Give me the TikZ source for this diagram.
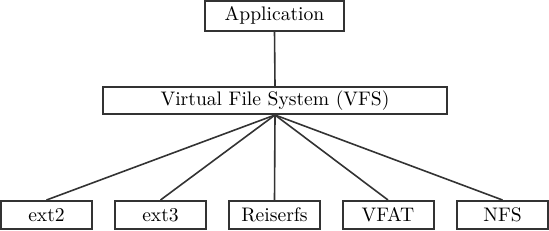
\documentclass[tikz,border=0pt]{standalone}
\begin{document}
\begin{tikzpicture}[x=0.5pt,y=-0.5pt]
    % styles
    \tikzstyle{fsbox}=[draw=black!80, line width=1pt, inner sep=0pt, minimum height=14pt, font=\fontsize{9.8}{12}\selectfont]
    \tikzstyle{link}=[black!80, line width=0.8pt]

    \useasboundingbox (0,0) rectangle (549,230);

    % top
    \node[fsbox, minimum width=69.5pt, minimum height=15pt] (app) at (274.5,15.5) {Application};
    \node[fsbox, minimum width=172pt, minimum height=13.5pt] (vfs) at (275,100.5) {Virtual File System (VFS)};

    % file systems
    \node[fsbox, minimum width=45.5pt] (ext2) at (46.5,215) {ext2};
    \node[fsbox, minimum width=45.5pt] (ext3) at (160.5,215) {ext3};
    \node[fsbox, minimum width=45.5pt] (reiser) at (274.5,215) {Reiserfs};
    \node[fsbox, minimum width=45.5pt] (vfat) at (388,215) {VFAT};
    \node[fsbox, minimum width=45.5pt] (nfs) at (502.5,215) {NFS};

    % links
    \draw[link] (app.south) -- (vfs.north);
    \foreach \fs in {ext2,ext3,reiser,vfat,nfs}
        \draw[link] (vfs.south) -- (\fs.north);
\end{tikzpicture}
\end{document}
